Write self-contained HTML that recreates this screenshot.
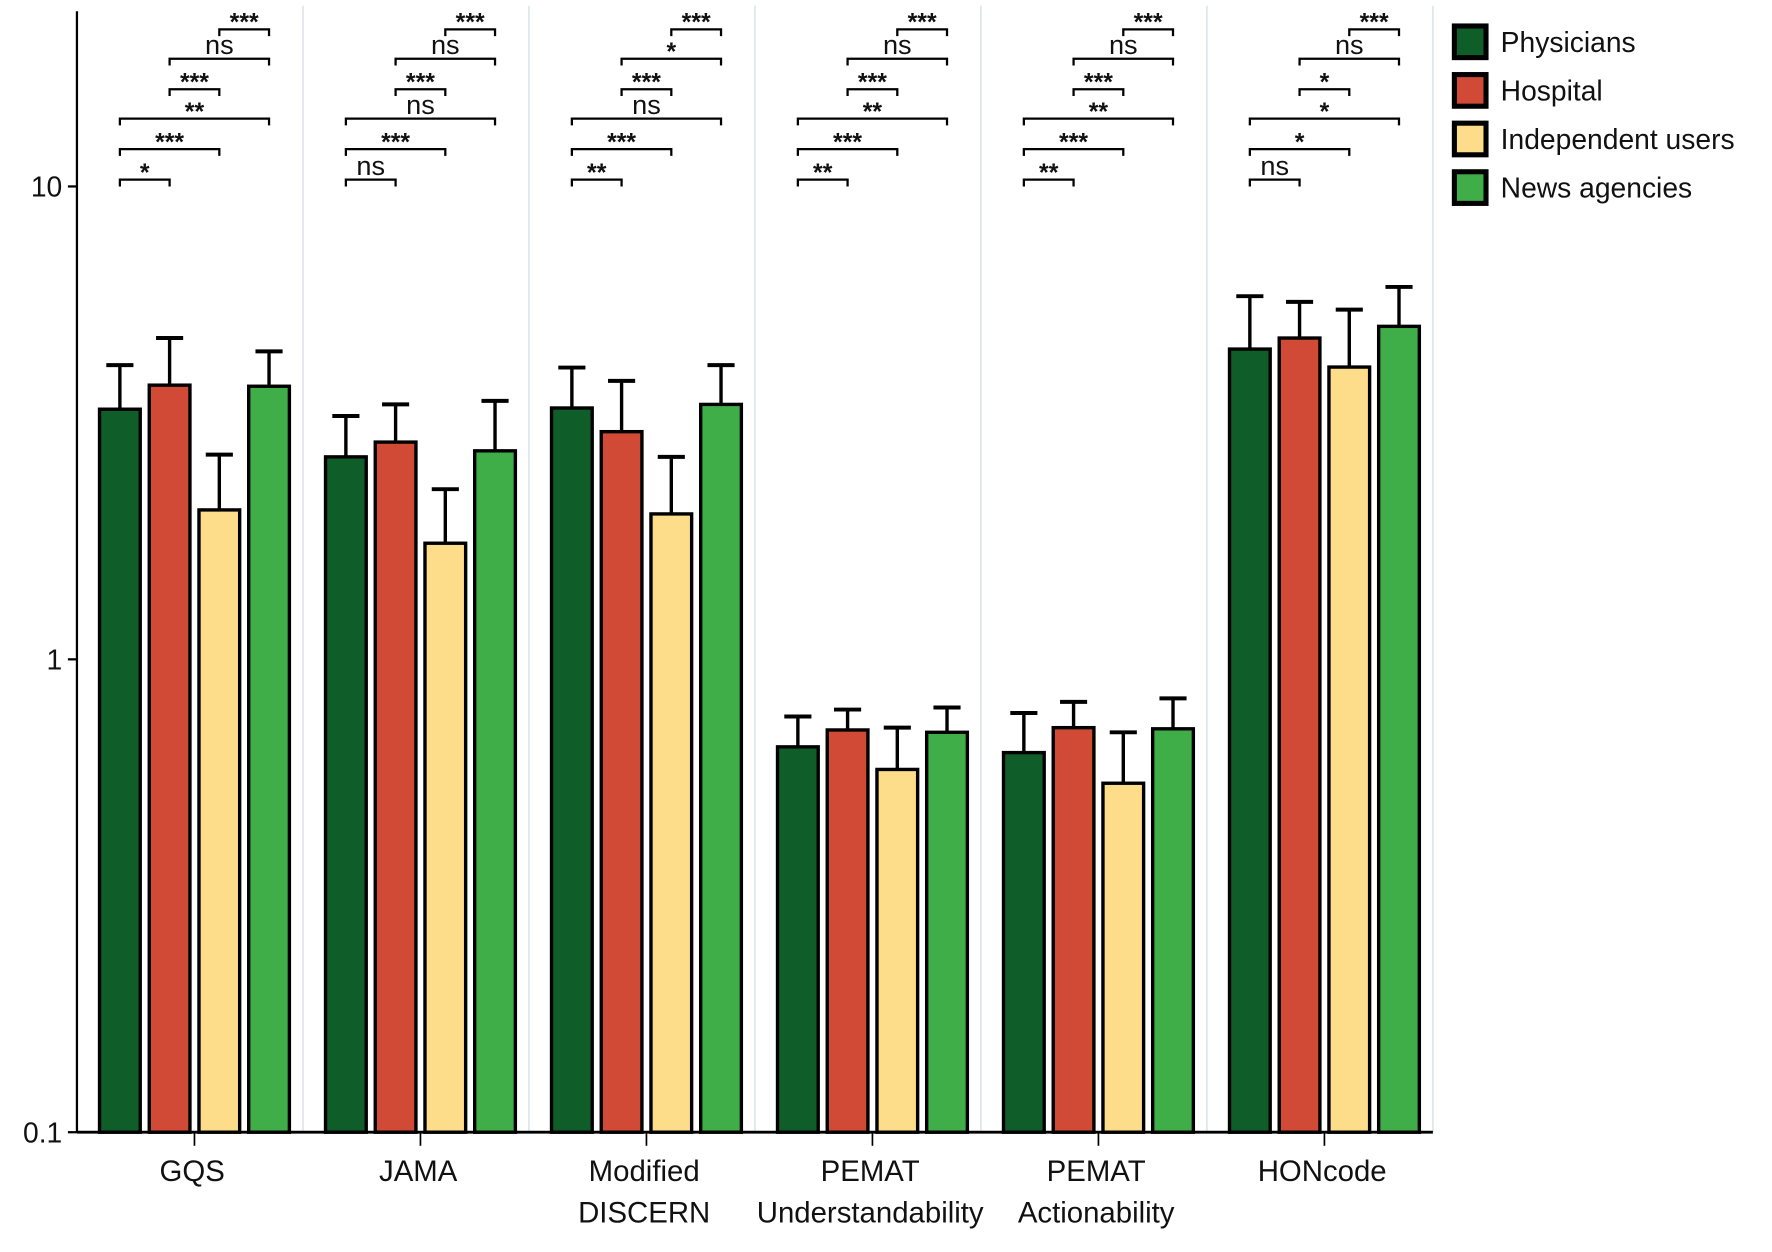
<!DOCTYPE html>
<html><head><meta charset="utf-8"><style>
html,body{margin:0;padding:0;background:#fff;}
svg{display:block;font-family:"Liberation Sans",Arial,sans-serif;}
</style></head><body>
<svg id="chart" width="1772" height="1252" viewBox="0 0 1568 1108" xmlns="http://www.w3.org/2000/svg"></svg>
<script>
const categories = [["GQS"],["JAMA"],["Modified","DISCERN"],["PEMAT","Understandability"],["PEMAT","Actionability"],["HONcode"]];
const seriesNames = ["Physicians","Hospital","Independent users","News agencies"];
const physicians = [3.38,2.68,3.40,0.653,0.635,4.53];
const hospital = [3.80,2.88,3.03,0.709,0.717,4.78];
const independent = [2.07,1.76,2.03,0.585,0.547,4.15];
const news = [3.78,2.76,3.46,0.701,0.713,5.06];
const physiciansErr = [4.19,3.27,4.14,0.757,0.770,5.86];
const hospitalErr = [4.78,3.46,3.88,0.783,0.813,5.70];
const independentErr = [2.71,2.29,2.68,0.717,0.701,5.49];
const newsErr = [4.48,3.52,4.19,0.791,0.827,6.13];
const yTicks = [0.1,1,10];
const yTickLabels = ["0.1","1","10"];
// significance labels per panel: PH-H, PH-I, PH-N, H-I, H-N, I-N
const sigLabels = [
 ["*","***","**","***","ns","***"],
 ["ns","***","ns","***","ns","***"],
 ["**","***","ns","***","*","***"],
 ["**","***","**","***","ns","***"],
 ["**","***","**","***","ns","***"],
 ["ns","*","*","*","ns","***"]
];
const sigPairs = [[0,1],[0,2],[0,3],[1,2],[1,3],[2,3]];

const colors = ["#0f5e2a","#d04a35","#fddc8a","#3fae49"];
const values = [physicians,hospital,independent,news];
const errs = [physiciansErr,hospitalErr,independentErr,newsErr];
const svg = document.getElementById('chart');
const NS = "http://www.w3.org/2000/svg";
const x0 = 68, x1 = 1268, yBase = 1002, decade = 418.5;
const panelW = (x1 - x0) / categories.length;
function y(v){ return yBase - decade * Math.log10(v / 0.1); }
function cx(i){ return x0 + panelW * (i + 0.5) + 4; }
const offs = [-66,-22,22,66], bw = 36;
function bx(i,s){ return cx(i) + offs[s]; }
function mk(tag, attrs, parent){
  const e = document.createElementNS(NS, tag);
  for (const k in attrs) e.setAttribute(k, attrs[k]);
  (parent || svg).appendChild(e);
  return e;
}
for (let i = 1; i <= categories.length; i++) {
  const l = mk('line', {x1: x0 + panelW*i, x2: x0 + panelW*i, y1: 5, y2: yBase, stroke: '#dfe5ec', 'stroke-width': 1.5});
  
  
}
for (let s = 0; s < 4; s++) {
  for (let i = 0; i < categories.length; i++) {
    const g = mk('g', {});
    
    
    const xc = bx(i,s), yt = y(values[s][i]), ye = y(errs[s][i]);
    mk('line', {x1: xc, x2: xc, y1: ye, y2: yt, stroke: '#000', 'stroke-width': 3}, g);
    mk('line', {x1: xc-12, x2: xc+12, y1: ye, y2: ye, stroke: '#000', 'stroke-width': 3.5}, g);
    mk('rect', {x: xc-bw/2, y: yt, width: bw, height: yBase - yt, fill: colors[s], stroke: '#000', 'stroke-width': 3}, g);
  }
}
const ya = mk('line', {x1: x0, x2: x0, y1: 10, y2: yBase, stroke: '#000', 'stroke-width': 2});


const xa = mk('line', {x1: x0, x2: x1, y1: yBase, y2: yBase, stroke: '#000', 'stroke-width': 2.5});


yTicks.forEach((v, k) => {
  mk('line', {x1: x0-8, x2: x0, y1: y(v), y2: y(v), stroke: '#000', 'stroke-width': 2});
  const t = mk('text', {x: x0-13, y: y(v)+9, 'text-anchor': 'end', 'font-size': 25, fill: '#111'});
  t.textContent = yTickLabels[k];
  
  
});
categories.forEach((c, i) => {
  mk('line', {x1: cx(i), x2: cx(i), y1: yBase, y2: yBase+12, stroke: '#000', 'stroke-width': 1.5});
  c.forEach((line, j) => {
    const t = mk('text', {x: cx(i)-2, y: 1045 + j*37, 'text-anchor': 'middle', 'font-size': 26, fill: '#111'});
    t.textContent = line;
    
    
  });
});
const levels = [159,132,105,79,52,26];
sigLabels.forEach((labs, i) => {
  labs.forEach((lab, k) => {
    const [a,b] = sigPairs[k];
    const xa_ = bx(i,a), xb = bx(i,b), yy = levels[k];
    const g = mk('g', {});
    
    
    mk('path', {d: `M${xa_} ${yy+6}V${yy}H${xb}V${yy+6}`, fill: 'none', stroke: '#000', 'stroke-width': 2}, g);
    const isNs = lab === 'ns';
    const t = mk('text', {x: (xa_+xb)/2, y: isNs ? yy-4 : yy+1, 'text-anchor': 'middle', 'font-size': isNs ? 24 : 22, 'font-weight': isNs ? 'normal' : 'bold', fill: '#111'}, g);
    t.textContent = lab;
  });
});
seriesNames.forEach((n, s) => {
  const g = mk('g', {});
  
  
  const yc = 37 + s*43;
  mk('rect', {x: 1287, y: yc-14, width: 28, height: 28, fill: colors[s], stroke: '#000', 'stroke-width': 4.5}, g);
  const t = mk('text', {x: 1328, y: yc+9, 'font-size': 25, fill: '#111'}, g);
  t.textContent = n;
});
</script>
</body></html>
